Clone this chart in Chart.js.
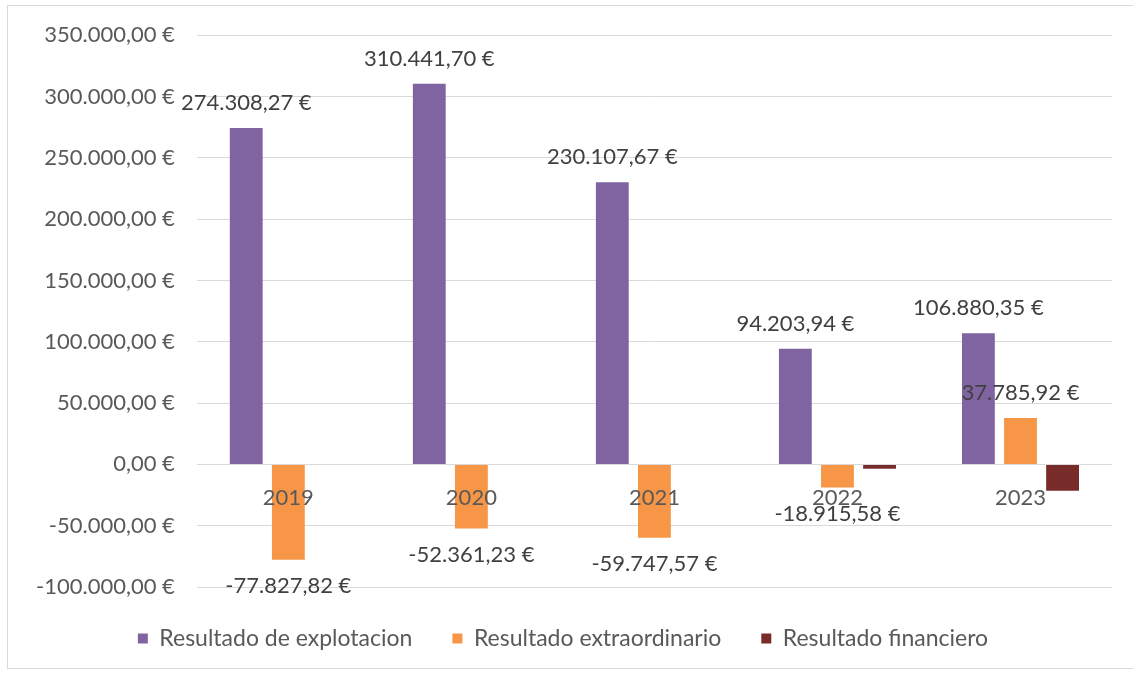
<!DOCTYPE html>
<html>
<head>
<meta charset="utf-8">
<script src="https://cdn.jsdelivr.net/npm/chart.js@4"></script>
<style>
  body { margin: 0; background: #fff; }
  #wrap { position: relative; width: 1133px; height: 674px; }
  #frame { position: absolute; left: 7px; top: 5px; width: 1140px; height: 662px; border: 1px solid #d9d9d9; }
  canvas { position: absolute; left: 0; top: 0; }
</style>
</head>
<body>
<div id="wrap">
  <div id="frame"></div>
  <canvas id="myChart" width="1133" height="674"></canvas>
</div>
<script>
var years = ['2019', '2020', '2021', '2022', '2023'];
var explotacion = [274308.27, 310441.70, 230107.67, 94203.94, 106880.35];
var extraordinario = [-77827.82, -52361.23, -59747.57, -18915.58, 37785.92];
var financiero = [0, 0, 0, -3500, -21500];

// formato español: 274.308,27 €
function euros(v, dec) {
    var neg = v < 0;
    var s = Math.abs(v).toFixed(dec);
    var parts = s.split('.');
    var ent = parts[0].replace(/\B(?=(\d{3})+(?!\d))/g, '.');
    return (neg ? '-' : '') + ent + (dec ? ',' + parts[1] : '') + ' €';
}

// etiquetas de valor encima / debajo de las barras
var valueLabels = {
    id: 'valueLabels',
    afterDatasetsDraw: function(chart) {
        var ctx = chart.ctx;
        ctx.save();
        ctx.font = '22px Lato';
        ctx.fillStyle = '#404040';
        ctx.textAlign = 'center';
        ctx.textBaseline = 'middle';
        [0, 1].forEach(function(di) {
            var meta = chart.getDatasetMeta(di);
            meta.data.forEach(function(bar, i) {
                var v = chart.data.datasets[di].data[i];
                var y = v >= 0 ? bar.y - 25 : bar.y + 26;
                ctx.fillText(euros(v, 2), bar.x, y);
            });
        });
        ctx.restore();
    }
};

var ctx = document.getElementById('myChart').getContext('2d');
var chart = new Chart(ctx, {
    type: 'bar',
    data: {
        labels: years,
        datasets: [
            { label: 'Resultado de explotacion', data: explotacion, backgroundColor: '#8064a2' },
            { label: 'Resultado extraordinario', data: extraordinario, backgroundColor: '#f79646' },
            { label: 'Resultado financiero', data: financiero, backgroundColor: '#772c2a' }
        ]
    },
    options: {
        responsive: false,
        animation: false,
        categoryPercentage: 0.69,
        barPercentage: 0.78,
        layout: { padding: { left: 14, right: 21, top: 27, bottom: 14 } },
        plugins: {
            tooltip: { enabled: false },
            legend: {
                position: 'bottom',
                labels: {
                    font: { family: 'Lato', size: 23 },
                    color: '#595959',
                    boxWidth: 10,
                    boxHeight: 10,
                    padding: 40
                }
            }
        },
        scales: {
            x: {
                position: { y: 0 },
                grid: { display: false },
                border: { display: false },
                ticks: { z: 1, font: { family: 'Lato', size: 22 }, color: '#595959', padding: 12 }
            },
            y: {
                min: -100000,
                max: 350000,
                grid: { color: '#d9d9d9', drawTicks: false },
                border: { display: false },
                ticks: {
                    stepSize: 50000,
                    padding: 22,
                    font: { family: 'Lato', size: 22 },
                    color: '#595959',
                    callback: function(v) { return euros(v, 2); }
                }
            }
        }
    },
    plugins: [valueLabels]
});
</script>
</body>
</html>
